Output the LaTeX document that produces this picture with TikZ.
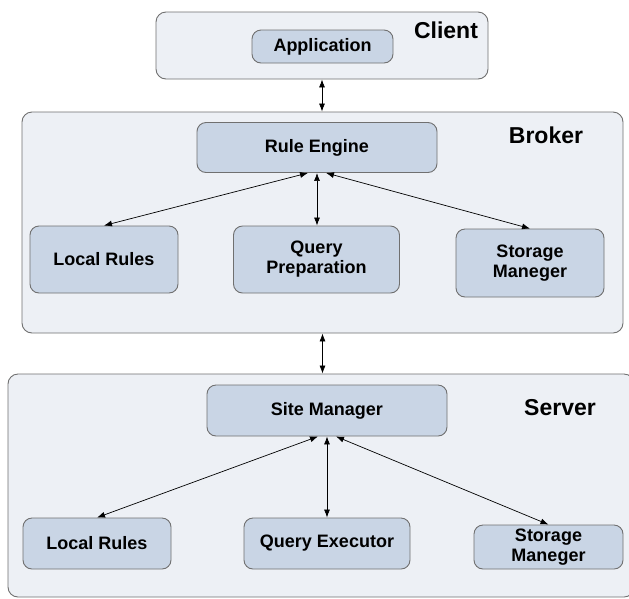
\documentclass[tikz,border=0pt]{standalone}
\usepackage{fontspec}
\setmainfont{Liberation Sans}
\usetikzlibrary{arrows.meta}
\definecolor{layerfill}{HTML}{EDF0F5}
\definecolor{partfill}{HTML}{C9D5E5}
\definecolor{boxline}{HTML}{707070}
\begin{document}
\begin{tikzpicture}[x=1pt,y=-1pt,
  layer/.style={draw=boxline,fill=layerfill,line width=0.9pt,rounded corners=10pt,inner sep=0pt},
  part/.style={draw=boxline,fill=partfill,line width=0.9pt,rounded corners=9pt,inner sep=0pt,
    align=center,font=\fontsize{18}{20}\selectfont\bfseries},
  tag/.style={inner sep=0pt,font=\fontsize{23}{26}\selectfont\bfseries},
  link/.style={{Latex[length=8pt,width=6pt]}-{Latex[length=8pt,width=6pt]},line width=0.7pt}]
\useasboundingbox (0,0) rectangle (629,598);
\clip (0,0) rectangle (629,598);
\fill[white] (0,0) rectangle (629,598);
% client
\node[layer,minimum width=332pt,minimum height=67pt] (client) at (322,45.5) {};
\node[part,minimum width=141pt,minimum height=33pt] (app) at (322.5,46.5) {Application};
\node[tag] (clienttag) at (446,30) {Client};
% broker
\node[layer,minimum width=601pt,minimum height=221pt] (broker) at (322.5,222.5) {};
\node[part,minimum width=240pt,minimum height=50pt] (engine) at (317,147.5) {Rule Engine};
\node[tag] (brokertag) at (546,135) {Broker};
\node[part,minimum width=148pt,minimum height=67pt] (brules) at (104,259.5) {Local Rules};
\node[part,minimum width=166pt,minimum height=67pt] (prep) at (316.5,259.5) {Query\\Preparation};
\node[part,minimum width=148pt,minimum height=68pt] (bstore) at (530,263) {Storage\\Maneger};
% server
\node[layer,minimum width=626pt,minimum height=223pt] (server) at (321,485.5) {};
\node[part,minimum width=240pt,minimum height=51pt] (site) at (327,410.5) {Site Manager};
\node[tag] (servertag) at (560,408) {Server};
\node[part,minimum width=148pt,minimum height=51pt] (srules) at (97,543.5) {Local Rules};
\node[part,minimum width=166pt,minimum height=51pt] (exec) at (327,543.5) {Query Executor};
\node[part,minimum width=149pt,minimum height=44pt] (sstore) at (548.5,547) {Storage\\Maneger};
% connectors
\draw[link] (client.south) -- (client.south |- broker.north);
\draw[link] (broker.south) -- (broker.south |- server.north);
\draw[link] ([xshift=-9pt]engine.south) -- (brules.north);
\draw[link] (engine.south) -- (engine.south |- prep.north);
\draw[link] ([xshift=9pt]engine.south) -- (bstore.north);
\draw[link] ([xshift=-9pt]site.south) -- (srules.north);
\draw[link] (site.south) -- (exec.north);
\draw[link] ([xshift=9pt]site.south) -- (sstore.north);
\end{tikzpicture}
\end{document}
